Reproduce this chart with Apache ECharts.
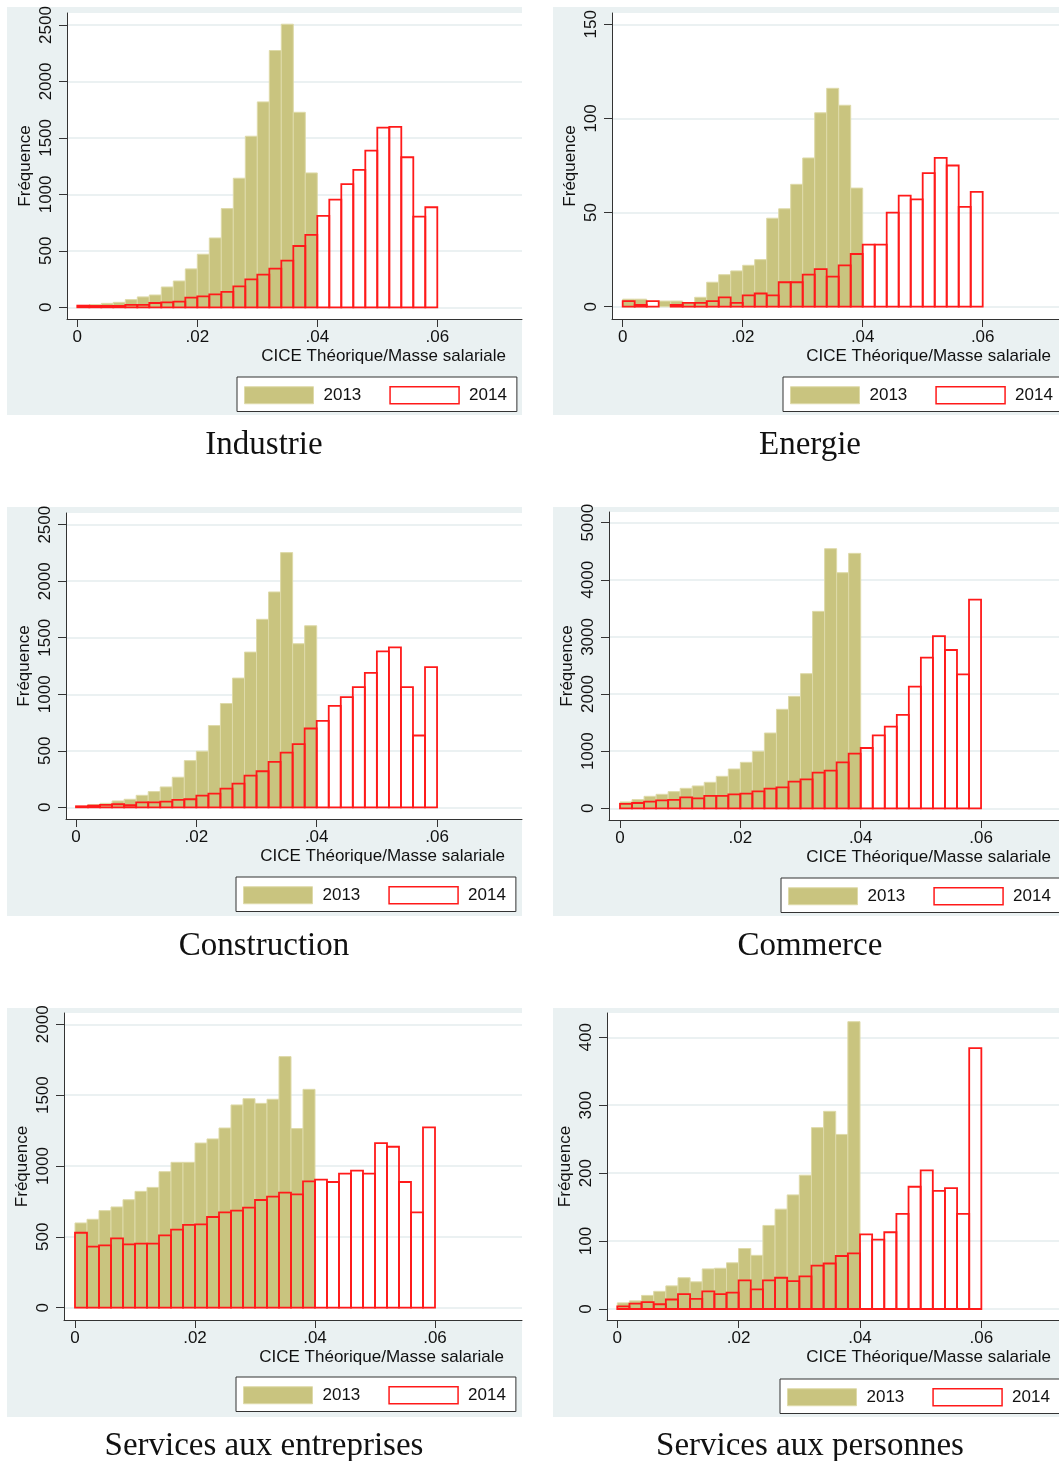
<!DOCTYPE html>
<html>
<head>
<meta charset="utf-8">
<title>CICE Théorique/Masse salariale par secteur</title>
<script src="https://cdn.jsdelivr.net/npm/echarts@6/dist/echarts.min.js"></script>
<style>
  html, body { margin: 0; padding: 0; background: #fff; }
  #chart { width: 1059px; height: 1461px; }
</style>
</head>
<body>
<div id="chart"></div>
<script>
// largeur des classes de l'histogramme
const binWidth = 0.002
const xTicks = [0, 0.02, 0.04, 0.06]

const sectors = ['Industrie', 'Energie', 'Construction', 'Commerce', 'Services aux entreprises', 'Services aux personnes']

// effectifs par classe
const industrie2013 = [15, 24, 35, 44, 68, 92, 109, 180, 233, 340, 470, 614, 874, 1143, 1515, 1819, 2274, 2507, 1727, 1190]
const industrie2014 = [15, 12, 12, 12, 21, 21, 38, 44, 50, 86, 97, 115, 136, 186, 248, 289, 343, 413, 543, 641, 809, 954, 1090, 1217, 1388, 1592, 1598, 1329, 803, 886]

const energie2013 = [4, 4, 0, 3, 3, 2, 5, 13, 17, 19, 22, 25, 47, 52, 65, 79, 103, 116, 107, 63]
const energie2014 = [3, 1, 3, 0, 1, 2, 2, 3, 5, 2, 6, 7, 6, 13, 13, 17, 20, 16, 22, 28, 33, 33, 50, 59, 57, 71, 79, 75, 53, 61]

const construction2013 = [9, 24, 35, 56, 71, 106, 139, 180, 266, 413, 496, 723, 918, 1143, 1373, 1663, 1905, 2253, 1447, 1606]
const construction2014 = [9, 15, 21, 27, 18, 44, 44, 50, 65, 71, 103, 121, 165, 210, 281, 319, 402, 484, 558, 697, 765, 898, 974, 1063, 1190, 1379, 1415, 1063, 635, 1240]

const commerce2013 = [111, 152, 210, 245, 292, 350, 391, 455, 560, 688, 805, 998, 1318, 1733, 1960, 2357, 3448, 4545, 4125, 4463]
const commerce2014 = [76, 93, 117, 140, 146, 193, 175, 216, 216, 245, 257, 298, 344, 368, 467, 508, 624, 659, 805, 957, 1056, 1278, 1429, 1634, 2129, 2637, 3016, 2771, 2345, 3652]

const entreprises2013 = [598, 624, 685, 711, 762, 821, 849, 960, 1026, 1026, 1162, 1191, 1268, 1431, 1475, 1442, 1471, 1772, 1264, 1541]
const entreprises2014 = [529, 431, 440, 489, 447, 452, 452, 511, 551, 584, 588, 640, 673, 685, 706, 760, 784, 812, 800, 892, 904, 887, 946, 967, 946, 1162, 1136, 887, 673, 1273]

const personnes2013 = [9, 12, 20, 26, 34, 46, 40, 59, 60, 68, 89, 79, 123, 147, 168, 197, 267, 291, 257, 423]
const personnes2014 = [4, 8, 10, 7, 14, 22, 15, 26, 22, 24, 42, 29, 42, 46, 41, 48, 64, 67, 78, 82, 110, 102, 113, 140, 180, 204, 174, 178, 140, 384]

// graduations de l'axe des fréquences
const yTicksIndustrie = [0, 500, 1000, 1500, 2000, 2500]
const yTicksEnergie = [0, 50, 100, 150]
const yTicksConstruction = [0, 500, 1000, 1500, 2000, 2500]
const yTicksCommerce = [0, 1000, 2000, 3000, 4000, 5000]
const yTicksEntreprises = [0, 500, 1000, 1500, 2000]
const yTicksPersonnes = [0, 100, 200, 300, 400]

const data2013 = [industrie2013, energie2013, construction2013, commerce2013, entreprises2013, personnes2013]
const data2014 = [industrie2014, energie2014, construction2014, commerce2014, entreprises2014, personnes2014]
const yTicks = [yTicksIndustrie, yTicksEnergie, yTicksConstruction, yTicksCommerce, yTicksEntreprises, yTicksPersonnes]

// mise en page : fond du panneau, zone de tracé, repères en pixels pour 0 / .04 et 0 / dernière graduation
const layout = [
  { bg: [7, 7, 522, 415], plot: [67, 13, 522, 319], x0: 77.3, x04: 317.3, y0: 307.3, yTopPx: 25.0, legend: [237, 377], titleRight: 506, caption: [264, 429] },
  { bg: [553, 7, 1059, 415], plot: [612, 13, 1059, 319], x0: 622.7, x04: 862.7, y0: 306.7, yTopPx: 24.3, legend: [783, 377], titleRight: 1051, caption: [810, 429] },
  { bg: [7, 507, 522, 916], plot: [66, 513, 522, 819], x0: 76, x04: 316.7, y0: 807.3, yTopPx: 524.7, legend: [236, 877], titleRight: 505, caption: [264, 930] },
  { bg: [553, 507, 1059, 916], plot: [609, 512, 1059, 820], x0: 620, x04: 860.7, y0: 808.3, yTopPx: 522.7, legend: [781, 878], titleRight: 1051, caption: [810, 930] },
  { bg: [7, 1008, 522, 1417], plot: [64, 1013, 522, 1320], x0: 75, x04: 315, y0: 1307.7, yTopPx: 1024.3, legend: [236, 1377], titleRight: 504, caption: [264, 1430] },
  { bg: [553, 1008, 1059, 1417], plot: [607, 1013, 1059, 1320], x0: 617.3, x04: 860, y0: 1309, yTopPx: 1037.3, legend: [780, 1379], titleRight: 1051, caption: [810, 1430] }
]

const OLIVE = '#c9c47f'
const OLIVE_EDGE = '#dedaa9'
const RED = '#ff1a1a'
const PANEL_BG = '#eaf1f2'
const SANS = 'Liberation Sans, Arial, sans-serif'
const SERIF = 'Liberation Serif, Times New Roman, serif'

const toBins = (counts) => counts.map((c, i) => [i * binWidth, (i + 1) * binWidth, c])

const fmtX = (v) => v === 0 ? '0' : String(+v.toFixed(3)).replace(/^0\./, '.')
const fmtY = (v) => String(Math.round(v))

const renderBin = (params, api) => {
  const c = api.value(2)
  if (!c) return null
  const p0 = api.coord([api.value(0), c])
  const p1 = api.coord([api.value(1), 0])
  return {
    type: 'rect',
    shape: { x: p0[0], y: p0[1], width: p1[0] - p0[0], height: p1[1] - p0[1] },
    style: api.style()
  }
}

const grids = [], xAxes = [], yAxes = [], series = [], legends = [], titles = [], bgRects = []

layout.forEach((L, k) => {
  const [pl, pt, pr, pb] = L.plot
  const ticks = yTicks[k]
  const yTop = ticks[ticks.length - 1]
  const perPxY = yTop / (L.y0 - L.yTopPx)
  const perPxX = 0.04 / (L.x04 - L.x0)

  bgRects.push({
    type: 'rect', z: -10,
    shape: { x: L.bg[0], y: L.bg[1], width: L.bg[2] - L.bg[0], height: L.bg[3] - L.bg[1] },
    style: { fill: PANEL_BG }
  })

  grids.push({
    left: pl, top: pt, width: pr - pl, height: pb - pt,
    show: true, backgroundColor: '#fff', borderWidth: 0
  })

  xAxes.push({
    type: 'value', gridIndex: k,
    min: -(L.x0 - pl) * perPxX,
    max: 0.04 + (pr - L.x04) * perPxX,
    name: 'CICE Théorique/Masse salariale',
    nameLocation: 'end',
    nameGap: -(pr - L.titleRight),
    nameTextStyle: { fontFamily: SANS, fontSize: 17, color: '#111', align: 'right', verticalAlign: 'top', padding: [29, 0, 0, 0] },
    axisLine: { show: true, onZero: false, lineStyle: { color: '#333', width: 1 } },
    axisTick: { show: true, length: 8, customValues: xTicks, lineStyle: { color: '#333' } },
    axisLabel: { customValues: xTicks, formatter: fmtX, fontFamily: SANS, fontSize: 17, color: '#111', margin: 10 },
    splitLine: { show: false }
  })

  yAxes.push({
    type: 'value', gridIndex: k,
    min: -(pb - L.y0) * perPxY,
    max: yTop + (L.yTopPx - pt) * perPxY,
    name: 'Fréquence',
    nameLocation: 'middle',
    nameGap: 33,
    nameTextStyle: { fontFamily: SANS, fontSize: 17, color: '#111' },
    axisLine: { show: true, onZero: false, lineStyle: { color: '#333', width: 1 } },
    axisTick: { show: true, length: 8, customValues: ticks, lineStyle: { color: '#333' } },
    axisLabel: { customValues: ticks, formatter: fmtY, rotate: 90, fontFamily: SANS, fontSize: 17, color: '#111', margin: 12 },
    splitLine: { show: true, lineStyle: { color: '#e4ecee', width: 1.5 } }
  })

  series.push({
    name: '2013', type: 'custom', xAxisIndex: k, yAxisIndex: k, z: 2,
    data: toBins(data2013[k]),
    encode: { x: [0, 1], y: 2 },
    itemStyle: { color: OLIVE, borderColor: OLIVE_EDGE, borderWidth: 1 },
    renderItem: renderBin
  })
  series.push({
    name: '2014', type: 'custom', xAxisIndex: k, yAxisIndex: k, z: 3,
    data: toBins(data2014[k]),
    encode: { x: [0, 1], y: 2 },
    itemStyle: { color: 'none', borderColor: RED, borderWidth: 1.8 },
    renderItem: renderBin
  })

  legends.push({
    left: L.legend[0], top: L.legend[1],
    width: 320,
    orient: 'horizontal',
    selectedMode: false,
    backgroundColor: '#fff',
    borderColor: '#333', borderWidth: 1,
    padding: [9, 10, 7, 7],
    itemWidth: 69, itemHeight: 17, itemGap: 28,
    textStyle: { fontFamily: SANS, fontSize: 17, color: '#111', padding: [0, 0, 0, 5] },
    data: [
      { name: '2013', icon: 'rect', itemStyle: { color: OLIVE, borderColor: OLIVE_EDGE, borderWidth: 1 } },
      { name: '2014', icon: 'rect', itemStyle: { color: '#fff', borderColor: RED, borderWidth: 1.5 } }
    ]
  })

  titles.push({
    text: sectors[k],
    left: L.caption[0], top: L.caption[1],
    textAlign: 'center',
    padding: 0,
    textStyle: { fontFamily: SERIF, fontSize: 33, fontWeight: 'normal', color: '#111' }
  })
})

const chart = echarts.init(document.getElementById('chart'), null, { renderer: 'canvas' })
chart.setOption({
  animation: false,
  backgroundColor: '#fff',
  graphic: { elements: bgRects },
  title: titles,
  legend: legends,
  grid: grids,
  xAxis: xAxes,
  yAxis: yAxes,
  series: series
})
</script>
</body>
</html>
